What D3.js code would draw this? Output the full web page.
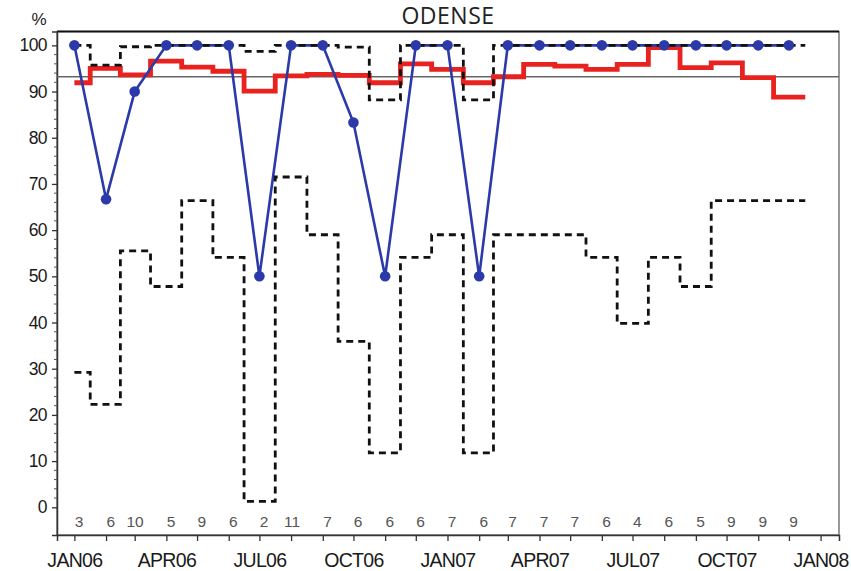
<!DOCTYPE html>
<html>
<head>
  <title>ODENSE</title>
  <style type="text/css">
    body { margin: 0; background: #fff; }
    svg { width: 851px; height: 571px; display: block; }
    .tick text { font-family: "Liberation Sans", Arial, sans-serif; fill: #1a1a1a; }
  </style>
</head>
<body>

<svg id='vis'></svg>

<script src="https://cdnjs.cloudflare.com/ajax/libs/d3/7.8.5/d3.min.js"></script>
<script type="text/javascript">

  // months (first day of each month), Jan 2006 .. Dec 2007
  var months = ['2006-01', '2006-02', '2006-03', '2006-04', '2006-05', '2006-06',
                '2006-07', '2006-08', '2006-09', '2006-10', '2006-11', '2006-12',
                '2007-01', '2007-02', '2007-03', '2007-04', '2007-05', '2007-06',
                '2007-07', '2007-08', '2007-09', '2007-10', '2007-11', '2007-12'];

  // monthly percent (blue)
  var pctValues = [100, 66.7, 90, 100, 100, 100, 50, 100, 100, 83.3, 50, 100,
                   100, 50, 100, 100, 100, 100, 100, 100, 100, 100, 100, 100];

  // running level (red step)
  var runValues = [91.9, 95.0, 93.6, 96.6, 95.3, 94.4, 90.1, 93.4, 93.7, 93.5, 91.9, 96.0,
                   94.8, 91.9, 93.2, 95.9, 95.5, 94.8, 95.9, 99.5, 95.2, 96.2, 93.0, 88.8];

  // confidence limits (dashed black steps)
  var upperValues = [100, 95.7, 99.7, 100, 100, 100, 98.7, 100, 100, 99.6, 88.2, 100,
                     100, 88.2, 100, 100, 100, 100, 100, 100, 100, 100, 100, 100];
  var lowerValues = [29.2, 22.3, 55.5, 47.8, 66.4, 54.1, 1.3, 71.5, 59.0, 35.9, 11.8, 54.1,
                     59.0, 11.8, 59.0, 59.0, 59.0, 54.1, 39.8, 54.1, 47.8, 66.4, 66.4, 66.4];

  // number of cases per month, printed along the bottom
  var counts = [3, 6, 10, 5, 9, 6, 2, 11, 7, 6, 6, 6,
                7, 6, 7, 7, 7, 6, 4, 6, 5, 9, 9, 9];

  var refLevel = 93.2;
  var yTicks = [0, 10, 20, 30, 40, 50, 60, 70, 80, 90, 100];

  var parseMonth = d3.timeParse('%Y-%m');
  var dates = months.map(parseMonth);

  var svg = d3.select('#vis');
  var plot = { left: 57, right: 839, top: 31.5, bottom: 535 };

  var x = d3.scaleTime()
    .domain([new Date(2005, 11, 15), new Date(2008, 0, 19)])
    .range([plot.left, plot.right]);

  var y = d3.scaleLinear()
    .domain([-6, 103])
    .range([plot.bottom, plot.top]);

  // frame
  svg.append('rect')
    .attr('x', plot.left)
    .attr('y', plot.top)
    .attr('width', plot.right - plot.left)
    .attr('height', plot.bottom - plot.top)
    .attr('fill', 'none')
    .attr('stroke', '#555')
    .attr('stroke-width', 1.2);

  svg.append('line')
    .attr('x1', plot.left).attr('x2', plot.right)
    .attr('y1', plot.top).attr('y2', plot.top)
    .attr('stroke', '#111')
    .attr('stroke-width', 2);

  // y axis, major + minor ticks
  var yAxis = svg.append('g')
    .attr('transform', 'translate(' + plot.left + ',0)')
    .call(d3.axisLeft(y).tickValues(yTicks).tickSize(5).tickPadding(5));
  yAxis.select('.domain').attr('stroke', '#333').attr('stroke-width', 1.5);
  yAxis.selectAll('.tick line').attr('stroke', '#333').attr('stroke-width', 1.3);
  yAxis.selectAll('.tick text').attr('font-size', '17.5px').attr('letter-spacing', '-0.6px');

  var minor = d3.range(0, 101, 2).filter(function(d) { return d % 10 != 0 });
  svg.append('g')
    .selectAll('line')
    .data(minor)
    .join('line')
    .attr('x1', plot.left - 3).attr('x2', plot.left)
    .attr('y1', function(d) { return y(d) }).attr('y2', function(d) { return y(d) })
    .attr('stroke', '#555');

  // x axis, monthly ticks, labels every quarter
  var fmt = d3.timeFormat('%b%y');
  var xAxis = svg.append('g')
    .attr('transform', 'translate(0,' + plot.bottom + ')')
    .call(d3.axisBottom(x)
      .ticks(d3.timeMonth.every(1))
      .tickSize(6)
      .tickPadding(12)
      .tickFormat(function(d) { return d.getMonth() % 3 == 0 ? fmt(d).toUpperCase() : '' }));
  xAxis.select('.domain').attr('stroke', '#333').attr('stroke-width', 1.5);
  xAxis.selectAll('.tick line').attr('stroke', '#333').attr('stroke-width', 1.3);
  xAxis.selectAll('.tick text').attr('font-size', '19.5px').attr('letter-spacing', '-0.7px');

  // reference line
  svg.append('line')
    .attr('x1', plot.left).attr('x2', plot.right)
    .attr('y1', y(refLevel)).attr('y2', y(refLevel))
    .attr('stroke', '#666')
    .attr('stroke-width', 1.3);

  // step path: each month spans from midpoint to midpoint
  var halfMonth = 16 * 24 * 3600 * 1000;
  function stepPoints(values) {
    var pts = [];
    values.forEach(function(v, i) {
      var l = i == 0 ? dates[0] : new Date((+dates[i - 1] + +dates[i]) / 2);
      var r = i == values.length - 1 ? new Date(+dates[i] + halfMonth)
                                     : new Date((+dates[i] + +dates[i + 1]) / 2);
      pts.push([x(l), y(v)], [x(r), y(v)]);
    });
    return pts;
  }
  var line = d3.line();

  svg.append('path')
    .attr('d', line(stepPoints(runValues)))
    .attr('fill', 'none')
    .attr('stroke', '#e8221e')
    .attr('stroke-width', 4.8);

  // blue line
  var pctLine = d3.line()
    .x(function(d, i) { return x(dates[i]) })
    .y(function(d) { return y(d) });

  svg.append('path')
    .attr('d', pctLine(pctValues))
    .attr('fill', 'none')
    .attr('stroke', '#2b3aa8')
    .attr('stroke-width', 2.6);

  [upperValues, lowerValues].forEach(function(vals) {
    svg.append('path')
      .attr('d', line(stepPoints(vals)))
      .attr('fill', 'none')
      .attr('stroke', '#111')
      .attr('stroke-width', 2.8)
      .attr('stroke-dasharray', '7,5');
  });

  svg.append('g')
    .selectAll('circle')
    .data(pctValues)
    .join('circle')
    .attr('cx', function(d, i) { return x(dates[i]) })
    .attr('cy', function(d) { return y(d) })
    .attr('r', 5.3)
    .attr('fill', '#2b3aa8');

  // counts along the bottom
  svg.append('g')
    .selectAll('text')
    .data(counts)
    .join('text')
    .attr('x', function(d, i) { return x(dates[i]) + 9 })
    .attr('y', 527)
    .attr('text-anchor', 'end')
    .attr('font-family', '"Liberation Sans", Arial, sans-serif')
    .attr('font-size', '15.5px')
    .attr('fill', '#555')
    .text(function(d) { return d });

  // title and unit
  svg.append('text')
    .attr('x', (plot.left + plot.right) / 2)
    .attr('y', 24)
    .attr('text-anchor', 'middle')
    .attr('font-family', '"Open Sans", sans-serif')
    .attr('font-size', '23px')
    .attr('letter-spacing', '0.5px')
    .attr('fill', '#222')
    .text('ODENSE');

  svg.append('text')
    .attr('x', 39)
    .attr('y', 25)
    .attr('text-anchor', 'middle')
    .attr('font-family', '"Liberation Sans", Arial, sans-serif')
    .attr('font-size', '17px')
    .attr('fill', '#222')
    .text('%');

</script>
</body>
</html>
